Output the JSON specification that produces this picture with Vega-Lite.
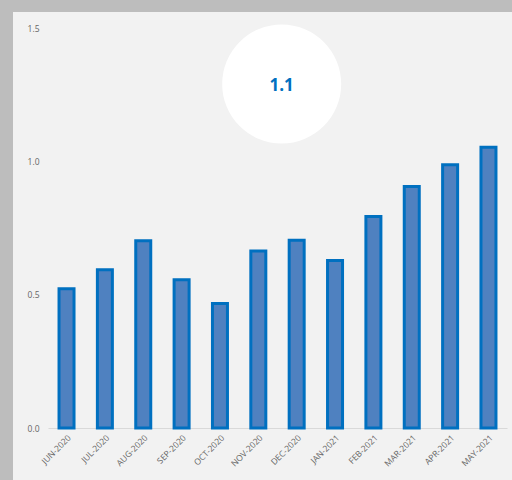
{
  "$schema": "https://vega.github.io/schema/vega-lite/v6.json",
  "width": 499,
  "height": 468,
  "autosize": "none",
  "padding": {"left": 13, "top": 12, "right": 0, "bottom": 0},
  "background": "#bdbdbd",
  "config": {
    "view": {"fill": "#f2f2f2", "stroke": null},
    "font": "Open Sans"
  },
  "layer": [
    {
      "data": {"values": [
        {"month": "JUN-2020", "value": 0.522},
        {"month": "JUL-2020", "value": 0.593},
        {"month": "AUG-2020", "value": 0.702},
        {"month": "SEP-2020", "value": 0.556},
        {"month": "OCT-2020", "value": 0.467},
        {"month": "NOV-2020", "value": 0.664},
        {"month": "DEC-2020", "value": 0.704},
        {"month": "JAN-2021", "value": 0.628},
        {"month": "FEB-2021", "value": 0.793},
        {"month": "MAR-2021", "value": 0.906},
        {"month": "APR-2021", "value": 0.987},
        {"month": "MAY-2021", "value": 1.053}
      ]},
      "mark": {"type": "bar", "fill": "#4f81c0", "stroke": "#0070c0", "strokeWidth": 3},
      "encoding": {
        "x": {
          "field": "month", "type": "nominal", "sort": null,
          "scale": {"range": [35, 494], "paddingInner": 0.609, "paddingOuter": 0.2875},
          "axis": {
            "title": null, "orient": "bottom", "offset": -52, "ticks": false,
            "domainColor": "#d9d9d9", "domainWidth": 1, "labelAngle": -45,
            "labelFontSize": 8.5, "labelColor": "#666666", "labelPadding": 5
          }
        },
        "y": {
          "field": "value", "type": "quantitative",
          "scale": {"domain": [-0.195, 1.56], "nice": false, "zero": false},
          "axis": {
            "title": null, "offset": -28, "domain": false, "ticks": false, "grid": false,
            "values": [0, 0.5, 1, 1.5], "format": ".1f",
            "labelFontSize": 8.5, "labelColor": "#666666", "labelPadding": 2
          }
        },
        "y2": {"datum": 0}
      }
    },
    {
      "data": {"values": [{"label": "1.1"}]},
      "mark": {"type": "point", "shape": "circle", "filled": true, "fill": "#ffffff", "opacity": 1, "size": 14161, "strokeWidth": 0, "xOffset": -15},
      "encoding": {
        "x": {"datum": "DEC-2020"},
        "y": {"datum": 1.29}
      }
    },
    {
      "data": {"values": [{"label": "1.1"}]},
      "mark": {"type": "text", "fontSize": 17, "fontWeight": "bold", "fill": "#0070c0", "align": "center", "baseline": "middle", "xOffset": -15, "dy": 2},
      "encoding": {
        "x": {"datum": "DEC-2020"},
        "y": {"datum": 1.29},
        "text": {"field": "label"}
      }
    }
  ]
}
